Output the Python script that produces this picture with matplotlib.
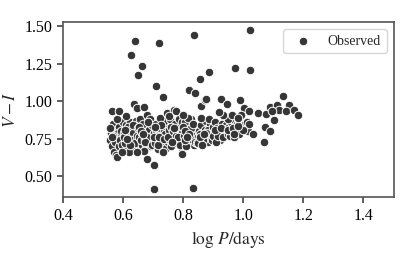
import numpy as np
import matplotlib
matplotlib.use("Agg")
import matplotlib.pyplot as plt
import seaborn as sns

# main cluster (log P, V-I)
log_p_main = [
    0.558, 0.571, 0.563, 0.579, 0.566, 0.584, 0.561, 0.592, 0.575, 0.569, 0.588, 0.597, 0.557, 0.582, 0.573, 0.594, 0.567, 0.586, 0.599, 0.577, 0.590, 0.564, 0.581, 0.596,
    0.602, 0.618, 0.609, 0.631, 0.614, 0.641, 0.625, 0.606, 0.637, 0.621, 0.648, 0.611, 0.629, 0.644, 0.616, 0.634, 0.603, 0.627, 0.646, 0.619, 0.639, 0.608, 0.632, 0.623, 0.649, 0.613,
    0.653, 0.671, 0.662, 0.684, 0.657, 0.693, 0.676, 0.667, 0.688, 0.659, 0.698, 0.679, 0.664, 0.691, 0.672, 0.655, 0.686, 0.669, 0.695, 0.681, 0.661, 0.674, 0.689, 0.666, 0.697, 0.683,
    0.704, 0.719, 0.711, 0.733, 0.706, 0.742, 0.726, 0.715, 0.738, 0.709, 0.747, 0.722, 0.730, 0.713, 0.744, 0.702, 0.736, 0.724, 0.749, 0.717, 0.728, 0.740, 0.707, 0.721, 0.735, 0.745,
    0.752, 0.768, 0.759, 0.781, 0.755, 0.792, 0.774, 0.763, 0.787, 0.757, 0.797, 0.771, 0.779, 0.761, 0.794, 0.751, 0.785, 0.766, 0.799, 0.776, 0.789, 0.754, 0.770, 0.783, 0.764, 0.796,
    0.803, 0.818, 0.809, 0.831, 0.806, 0.842, 0.824, 0.813, 0.837, 0.801, 0.847, 0.821, 0.828, 0.811, 0.844, 0.805, 0.835, 0.816, 0.849, 0.826, 0.839, 0.808, 0.820, 0.833, 0.814, 0.846,
    0.853, 0.869, 0.861, 0.882, 0.856, 0.893, 0.875, 0.864, 0.888, 0.851, 0.897, 0.872, 0.879, 0.859, 0.891, 0.866, 0.884, 0.857, 0.899, 0.877, 0.862, 0.886, 0.871, 0.895,
    0.903, 0.918, 0.909, 0.931, 0.906, 0.942, 0.924, 0.913, 0.937, 0.901, 0.947, 0.921, 0.928, 0.911, 0.944, 0.915, 0.934, 0.907, 0.926, 0.949,
    0.953, 0.968, 0.959, 0.981, 0.956, 0.992, 0.974, 0.963, 0.987, 0.951, 0.997, 0.971, 0.979, 1.004, 0.984, 1.011, 0.966, 1.016,
]
vi_main = [
    0.74, 0.81, 0.70, 0.77, 0.85, 0.72, 0.79, 0.68, 0.76, 0.66, 0.83, 0.75, 0.82, 0.79, 0.73, 0.80, 0.77, 0.70, 0.86, 0.64, 0.74, 0.76, 0.88, 0.71,
    0.79, 0.73, 0.84, 0.77, 0.69, 0.81, 0.86, 0.72, 0.74, 0.80, 0.70, 0.77, 0.68, 0.87, 0.83, 0.79, 0.76, 0.74, 0.77, 0.66, 0.72, 0.81, 0.84, 0.71, 0.82, 0.75,
    0.76, 0.82, 0.71, 0.78, 0.88, 0.73, 0.69, 0.85, 0.81, 0.74, 0.77, 0.91, 0.79, 0.70, 0.75, 0.83, 0.72, 0.67, 0.84, 0.76, 0.80, 0.73, 0.88, 0.78, 0.71, 0.86,
    0.79, 0.74, 0.85, 0.70, 0.72, 0.83, 0.77, 0.68, 0.87, 0.81, 0.76, 0.82, 0.73, 0.77, 0.69, 0.76, 0.80, 0.89, 0.73, 0.71, 0.84, 0.78, 0.83, 0.76, 0.75, 0.92,
    0.81, 0.75, 0.70, 0.79, 0.88, 0.73, 0.85, 0.77, 0.82, 0.74, 0.69, 0.94, 0.72, 0.83, 0.78, 0.76, 0.88, 0.80, 0.74, 0.77, 0.71, 0.90, 0.82, 0.76, 0.73, 0.86,
    0.77, 0.84, 0.72, 0.80, 0.86, 0.74, 0.78, 0.81, 0.71, 0.83, 0.79, 0.75, 0.88, 0.70, 0.83, 0.74, 0.77, 0.89, 0.76, 0.82, 0.73, 0.80, 0.78, 0.85, 0.76, 0.72,
    0.80, 0.76, 0.84, 0.73, 0.78, 0.82, 0.87, 0.75, 0.79, 0.72, 0.76, 0.81, 0.77, 0.89, 0.85, 0.74, 0.81, 0.76, 0.83, 0.79, 0.71, 0.88, 0.78, 0.74,
    0.79, 0.83, 0.75, 0.80, 0.86, 0.78, 0.74, 0.82, 0.87, 0.77, 0.81, 0.79, 0.85, 0.73, 0.84, 0.77, 0.76, 0.81, 0.82, 0.78,
    0.83, 0.79, 0.86, 0.82, 0.77, 0.85, 0.80, 0.88, 0.78, 0.81, 0.84, 0.76, 0.85, 0.81, 0.88, 0.86, 0.82, 0.80,
]

# scattered points around and above the cluster, plus the long-period tail
log_p_rest = [
    0.640, 0.720, 0.626, 0.837, 1.021, 0.664, 0.651, 0.886, 0.857, 0.972, 1.021, 0.711, 0.733, 0.820, 0.840, 1.132,
    0.638, 0.646, 0.671, 0.562, 0.587, 0.610, 0.681, 0.703, 0.704, 0.832, 0.580, 0.796, 0.732, 0.596, 0.647,
    0.776, 0.799, 0.860, 0.873,
    0.926, 0.989, 0.946, 0.876, 1.153, 1.001, 1.018, 1.050, 1.077, 1.090, 1.114, 1.120, 1.143, 1.168, 1.181,
    1.096, 1.103, 1.074, 1.090, 1.068, 1.034, 1.018, 0.999, 0.982, 0.970, 0.951, 0.934, 0.918, 0.963, 0.993, 0.982,
]
vi_rest = [
    1.400, 1.390, 1.310, 1.445, 1.475, 1.235, 1.175, 1.193, 1.147, 1.222, 1.207, 1.102, 1.031, 1.073, 1.056, 1.035,
    0.985, 0.955, 0.962, 0.935, 0.933, 0.900, 0.613, 0.575, 0.415, 0.422, 0.631, 0.647, 0.665, 0.662, 0.662,
    0.933, 0.907, 0.971, 1.007,
    1.013, 1.009, 0.980, 1.013, 0.978, 0.958, 0.938, 0.925, 0.918, 0.962, 0.978, 0.940, 0.933, 0.940, 0.911,
    0.933, 0.873, 0.829, 0.802, 0.729, 0.780, 0.847, 0.807, 0.833, 0.780, 0.880, 0.907, 0.929, 0.907, 0.907, 0.891,
]

log_p = np.array(log_p_main + log_p_rest)
vi = np.array(vi_main + vi_rest)

sns.set_theme(style="ticks")
plt.rcParams["font.family"] = ["Liberation Serif", "DejaVu Serif"]
plt.rcParams["mathtext.fontset"] = "stix"

fig, ax = plt.subplots(figsize=(4.16, 2.57), dpi=100)
fig.subplots_adjust(left=0.151, right=0.946, top=0.914, bottom=0.233)

ax.scatter(log_p, vi, s=38, color="#363636", edgecolor="white", linewidth=0.7, label="Observed")

ax.set_xlim(0.4, 1.5)
ax.set_xticks([0.4, 0.6, 0.8, 1.0, 1.2, 1.4])
ax.set_yticks([0.50, 0.75, 1.00, 1.25, 1.50])
ax.set_yticklabels(["0.50", "0.75", "1.00", "1.25", "1.50"])
ax.tick_params(labelsize=11.5, colors="#333333", labelcolor="black", width=1.1, length=4)
for sp in ax.spines.values():
    sp.set_color("#555555")
    sp.set_linewidth(1.2)

ax.set_xlabel(r"$\log\,P/\mathrm{days}$", fontsize=12.5)
ax.set_ylabel(r"$V-I$", fontsize=12.5)
ax.legend(loc="upper right", fontsize=10, frameon=True)

fig.savefig("out.png", dpi=100)
